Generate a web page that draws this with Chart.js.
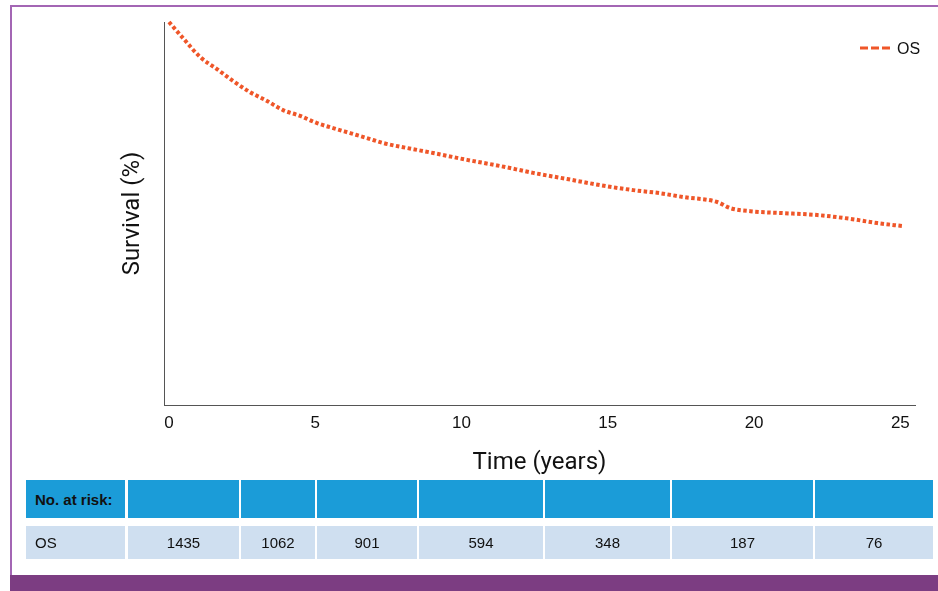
<!DOCTYPE html>
<html>
<head>
<meta charset="utf-8">
<script src="https://cdn.jsdelivr.net/npm/chart.js@4/dist/chart.umd.min.js"></script>
<style>
  html, body { margin: 0; padding: 0; background: #fff; }
  body { width: 938px; height: 591px; position: relative; overflow: hidden; font-family: "Liberation Sans", Arial, sans-serif; }
  #wrap { position: absolute; left: 0; top: 0; width: 938px; height: 591px; }
  .frameTop { position: absolute; left: 10px; top: 5px; width: 928px; height: 2px; background: #a366b4; }
  .frameLeft { position: absolute; left: 10px; top: 5px; width: 2px; height: 570px; background: #a366b4; }
  .band { position: absolute; left: 10px; top: 575px; width: 928px; height: 16px; background: #7c3d82; }
  .cell { position: absolute; box-sizing: border-box; font-size: 15px; color: #111; display: flex; align-items: center; justify-content: center; }
  .head { background: #1b9cd8; }
  .body { background: #cfdff0; }
  .first { justify-content: flex-start; padding-left: 9px; }
</style>
</head>
<body>
<div class="frameTop"></div>
<div class="frameLeft"></div>
<div id="wrap"><canvas id="km" width="938" height="591"></canvas></div>
<div id="table"></div>
<div class="band"></div>
<script>
  // Overall survival
  const timeYears = [0, 0.48, 1.06, 1.64, 2.19, 2.77, 3.35, 3.90, 4.48, 5.06, 5.61, 6.19, 6.77, 7.32, 8.14,
    9.03, 10.19, 11.32, 12.45, 13.61, 14.74, 15.87, 16.69, 17.58, 18.74, 19.19, 19.87, 21.0, 22.16, 23.29, 24.21, 25.1];
  const survival = [100, 95.8, 90.9, 87.7, 84.6, 81.7, 79.4, 77.0, 75.5, 73.6, 72.3, 71.0, 69.7, 68.4, 67.1,
    65.8, 64.0, 62.4, 60.6, 59.0, 57.4, 56.1, 55.4, 54.3, 53.0, 51.4, 50.6, 50.1, 49.6, 48.6, 47.5, 46.7];
  const tickYears = [0, 5, 10, 15, 20, 25];
  const seriesName = 'OS';
  const riskLabel = 'No. at risk:';
  const atRisk = [1435, 1062, 901, 594, 348, 187, 76];

  // table columns (x, width)
  const colLeft = [26, 128, 241, 317, 419, 545, 672, 815];
  const colRight = [125, 239, 315, 417, 543, 670, 813, 933];

  function buildTable() {
    const t = document.getElementById('table');
    let html = '';
    for (let i = 0; i < colLeft.length; i++) {
      const w = colRight[i] - colLeft[i];
      const headTxt = i === 0 ? '<b>' + riskLabel + '</b>' : '';
      const bodyTxt = i === 0 ? seriesName : atRisk[i - 1];
      const cls = i === 0 ? ' first' : '';
      html += `<div class="cell head${cls}" style="left:${colLeft[i]}px;top:480px;width:${w}px;height:38px">${headTxt}</div>`;
      html += `<div class="cell body${cls}" style="left:${colLeft[i]}px;top:526px;width:${w}px;height:33px">${bodyTxt}</div>`;
    }
    t.innerHTML = html;
  }

  // small legend in the top right corner of the plot
  const cornerLegend = {
    id: 'cornerLegend',
    afterDraw(chart) {
      const ctx = chart.ctx;
      const area = chart.chartArea;
      const ds = chart.data.datasets[0];
      ctx.save();
      ctx.strokeStyle = ds.borderColor;
      ctx.lineWidth = 3;
      ctx.setLineDash([8, 3]);
      ctx.beginPath();
      ctx.moveTo(area.right - 55, 48);
      ctx.lineTo(area.right - 25, 48);
      ctx.stroke();
      ctx.setLineDash([]);
      ctx.fillStyle = '#111';
      ctx.font = '16px "Liberation Sans", Arial, sans-serif';
      ctx.textBaseline = 'middle';
      ctx.fillText(ds.label, area.right - 18, 50);
      ctx.restore();
    }
  };

  function createChart() {
    const ctx = document.getElementById('km').getContext('2d');
    new Chart(ctx, {
      type: 'line',
      data: {
        datasets: [{
          label: seriesName,
          data: timeYears.map((t, i) => ({ x: t, y: survival[i] })),
          borderColor: '#ef5629',
          borderWidth: 4,
          borderDash: [3.5, 2.5],
          borderCapStyle: 'butt',
          cubicInterpolationMode: 'monotone',
          pointRadius: 0,
          fill: false,
          clip: false
        }]
      },
      options: {
        responsive: false,
        animation: false,
        layout: { padding: { left: 0, top: 22, right: 23, bottom: 114 } },
        plugins: { legend: { display: false }, tooltip: { enabled: false } },
        scales: {
          x: {
            type: 'linear',
            min: -0.17,
            max: 25.5,
            afterBuildTicks: (scale) => { scale.ticks = tickYears.map(v => ({ value: v })); },
            afterFit: (scale) => { scale.height = 72; },
            grid: { display: false },
            border: { display: true, color: '#555', width: 1 },
            ticks: { color: '#111', padding: 0, font: { size: 17, family: '"Liberation Sans", Arial, sans-serif' } },
            title: {
              display: true,
              text: 'Time (years)',
              color: '#111',
              padding: { top: 0, bottom: 0 },
              font: { size: 24, family: 'Roboto, sans-serif' }
            }
          },
          y: {
            min: 0,
            max: 100,
            afterFit: (scale) => { scale.width = 164; },
            grid: { display: false },
            border: { display: true, color: '#555', width: 1 },
            ticks: { display: false },
            title: {
              display: true,
              text: 'Survival (%)',
              color: '#111',
              padding: { top: 119, bottom: 0 },
              font: { size: 24, family: 'Roboto, sans-serif' }
            }
          }
        }
      },
      plugins: [cornerLegend]
    });
  }

  window.addEventListener('load', function() {
    buildTable();
    createChart();
  });
</script>
</body>
</html>
